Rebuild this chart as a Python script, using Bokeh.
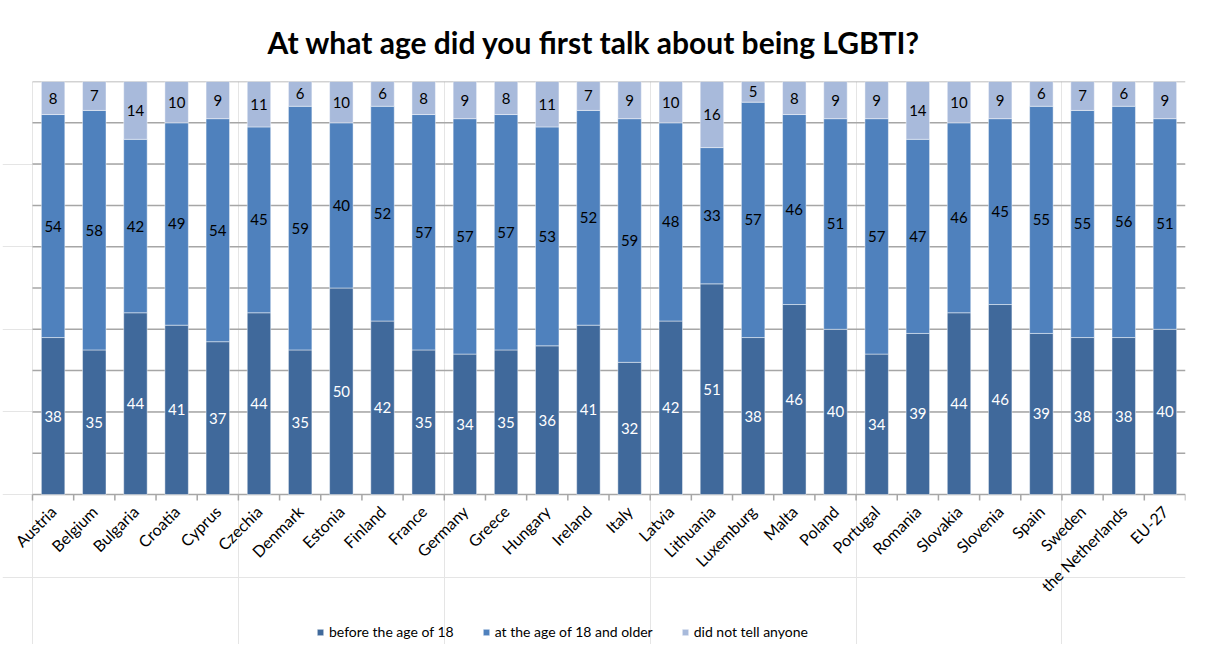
import math
from bokeh.plotting import figure
from bokeh.models import ColumnDataSource, Range1d, Legend, LegendItem
from bokeh.core.properties import value
from bokeh.embed import file_html
from bokeh.resources import INLINE

categories = ["Austria", "Belgium", "Bulgaria", "Croatia", "Cyprus", "Czechia", "Denmark",
              "Estonia", "Finland", "France", "Germany", "Greece", "Hungary", "Ireland",
              "Italy", "Latvia", "Lithuania", "Luxemburg", "Malta", "Poland", "Portugal",
              "Romania", "Slovakia", "Slovenia", "Spain", "Sweden", "the Netherlands", "EU-27"]
before_18 = [38, 35, 44, 41, 37, 44, 35, 50, 42, 35, 34, 35, 36, 41, 32, 42, 51, 38, 46, 40,
             34, 39, 44, 46, 39, 38, 38, 40]
at_18_older = [54, 58, 42, 49, 54, 45, 59, 40, 52, 57, 57, 57, 53, 52, 59, 48, 33, 57, 46, 51,
               57, 47, 46, 45, 55, 55, 56, 51]
did_not_tell = [8, 7, 14, 10, 9, 11, 6, 10, 6, 8, 9, 8, 11, 7, 9, 10, 16, 5, 8, 9, 9, 14, 10,
                9, 6, 7, 6, 9]
series_names = ["before the age of 18", "at the age of 18 and older", "did not tell anyone"]
y_ticks = list(range(0, 101, 10))

colors = ["#40699B", "#4F81BD", "#A8BADB"]
label_colors = ["white", "black", "black"]
FONT = "Lato"
AXIS_GRAY = "#A6A6A6"

n = len(categories)
xs = [i + 0.5 for i in range(n)]
bounds = list(range(n + 1))
series = [before_18, at_18_older, did_not_tell]

# layout: 0..100 occupies 413 px; extra 150 px below zero hold the category labels + legend
PLOT_PX = 413
BELOW_PX = 150
PLOT_W = 1153
LEFT_PAD_PX = 30
px_unit = 100.0 / PLOT_PX
ymin = -BELOW_PX * px_unit
xmin = -LEFT_PAD_PX * n / PLOT_W

p = figure(frame_width=PLOT_W + LEFT_PAD_PX, frame_height=PLOT_PX + BELOW_PX,
           x_range=Range1d(xmin, n), y_range=Range1d(ymin, 100),
           output_backend="svg", toolbar_location=None, x_axis_location=None,
           y_axis_location=None, min_border_left=2, min_border_right=8,
           min_border_top=80, min_border_bottom=0)
p.outline_line_color = None
p.background_fill_color = "white"
p.border_fill_color = "white"

p.title.text = "At what age did you first talk about being LGBTI?"
p.title.align = "center"
p.title.offset = 12
p.title.text_font = FONT
p.title.text_font_size = "30px"
p.title.text_font_style = "bold"
p.title.text_color = "black"
p.title.standoff = 43

# horizontal gridlines (0 line doubles as the category axis line)
grid_src = ColumnDataSource(dict(y=y_ticks, x0=[0] * len(y_ticks), x1=[n] * len(y_ticks)))
p.segment(x0="x0", y0="y", x1="x1", y1="y", source=grid_src, line_color=AXIS_GRAY,
          line_width=1.5)

# category boundary ticks below the baseline
tick_src = ColumnDataSource(dict(x=bounds, y0=[0] * len(bounds), y1=[-6 * px_unit] * len(bounds)))
p.segment(x0="x", y0="y0", x1="x", y1="y1", source=tick_src, line_color=AXIS_GRAY,
          line_width=1.5)

# rotated category labels
cat_src = ColumnDataSource(dict(x=xs, y=[-14 * px_unit] * n, t=categories))
p.text(x="x", y="y", text="t", source=cat_src, angle=math.pi / 4, text_align="right",
       text_baseline="middle", text_font=value(FONT), text_font_size="16px",
       text_color="black")

bottoms = [0] * n
legend_items = []
for k, vals in enumerate(series):
    tops = [b + v for b, v in zip(bottoms, vals)]
    mids = [(b + t) / 2 for b, t in zip(bottoms, tops)]
    src = ColumnDataSource(dict(x=xs, bottom=bottoms, top=tops, mid=mids,
                                lab=[str(v) for v in vals]))
    r = p.vbar(x="x", bottom="bottom", top="top", width=0.57, source=src,
               fill_color=colors[k], line_color="white", line_alpha=0.45, line_width=1)
    legend_items.append(LegendItem(label=series_names[k], renderers=[r]))
    p.text(x="x", y="mid", text="lab", source=src, text_align="center",
           text_baseline="middle", text_font=value(FONT), text_font_size="15px",
           text_color=label_colors[k])
    bottoms = tops

legend = Legend(items=legend_items, orientation="horizontal", location=(284 + LEFT_PAD_PX, 4),
                label_text_font=FONT, label_text_font_size="14px", label_text_color="black",
                glyph_width=8, glyph_height=8, spacing=28, label_standoff=5,
                border_line_color=None, background_fill_alpha=0, padding=0, margin=0)
p.add_layout(legend, "center")

open("out.html", "w").write(file_html(p, INLINE))
